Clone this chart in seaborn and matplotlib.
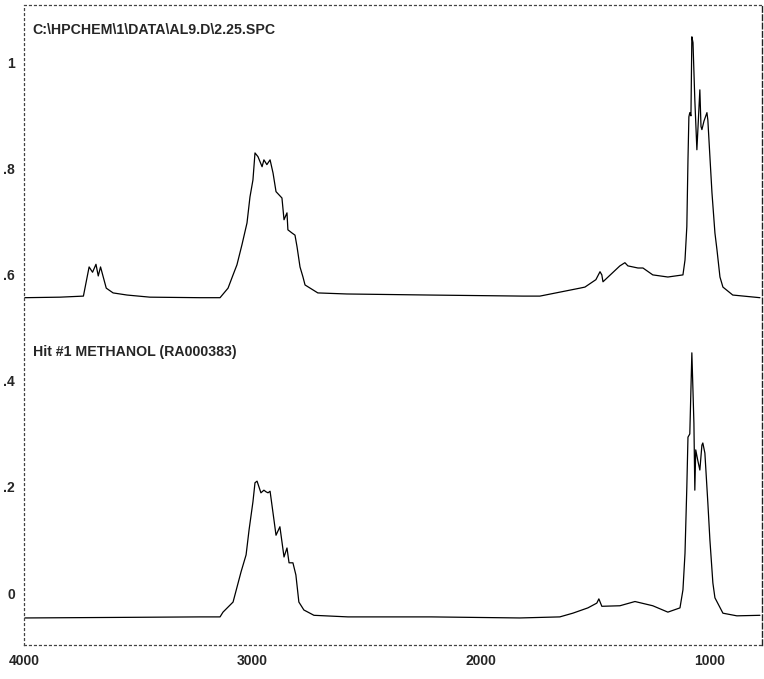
import matplotlib
matplotlib.use("Agg")
import matplotlib.pyplot as plt
import seaborn as sns
import pandas as pd

# Sample spectrum (upper trace): wavenumber (cm-1) and absorbance
sample_wn = [3996, 3842, 3740, 3715, 3700, 3685, 3675, 3665, 3640, 3610, 3549,
             3449, 3230, 3142, 3107, 3085, 3068, 3046, 3024, 3011, 2998, 2989, 2976,
             2958, 2950, 2937, 2923, 2910, 2897, 2884, 2871, 2862, 2849, 2845, 2827,
             2814, 2805, 2792, 2779, 2770, 2714, 2587, 2223, 1816, 1742, 1567, 1545,
             1497, 1479, 1471, 1466, 1392, 1370, 1357, 1313, 1291, 1248, 1182, 1116,
             1107, 1099, 1094, 1090, 1086, 1081, 1077, 1072, 1064, 1055, 1042, 1037,
             1033, 1024, 1011, 1007, 998, 989, 976, 967, 954, 941, 898, 779]
sample_abs = [0.557, 0.558, 0.560, 0.615, 0.605, 0.620, 0.598, 0.615, 0.575, 0.566, 0.562,
              0.558, 0.557, 0.557, 0.575, 0.600, 0.619, 0.657, 0.698, 0.747, 0.779, 0.830, 0.823,
              0.804, 0.817, 0.808, 0.817, 0.792, 0.757, 0.751, 0.745, 0.704, 0.717, 0.685, 0.679,
              0.675, 0.653, 0.615, 0.596, 0.581, 0.566, 0.564, 0.562, 0.560, 0.560, 0.575, 0.577,
              0.591, 0.606, 0.600, 0.587, 0.617, 0.623, 0.617, 0.613, 0.613, 0.600, 0.596, 0.600,
              0.628, 0.691, 0.817, 0.898, 0.906, 0.900, 1.049, 1.038, 0.930, 0.836, 0.949, 0.880,
              0.874, 0.890, 0.906, 0.892, 0.823, 0.755, 0.679, 0.647, 0.596, 0.577, 0.562, 0.557]

# Library match (lower trace): methanol reference spectrum
ref_wn = [3996, 3600, 3230, 3142, 3129, 3085, 3050, 3028, 3015, 2998, 2989, 2980,
          2963, 2950, 2941, 2932, 2923, 2906, 2897, 2880, 2862, 2849, 2840, 2823,
          2810, 2797, 2775, 2731, 2582, 2218, 1830, 1655, 1598, 1532, 1493, 1484,
          1471, 1392, 1326, 1248, 1182, 1129, 1116, 1107, 1099, 1094, 1086, 1077,
          1072, 1068, 1064, 1060, 1051, 1042, 1033, 1029, 1020, 1007, 998, 985,
          976, 941, 880, 779]
ref_abs = [-0.047, -0.046, -0.045, -0.045, -0.036, -0.017, 0.040, 0.072, 0.119, 0.172, 0.208, 0.211,
           0.189, 0.194, 0.191, 0.189, 0.192, 0.138, 0.109, 0.125, 0.068, 0.085, 0.057, 0.057,
           0.034, -0.017, -0.032, -0.042, -0.045, -0.045, -0.047, -0.045, -0.038, -0.028, -0.019, -0.011,
           -0.025, -0.024, -0.016, -0.024, -0.036, -0.028, 0.006, 0.075, 0.200, 0.294, 0.300, 0.453,
           0.380, 0.320, 0.194, 0.270, 0.250, 0.232, 0.279, 0.283, 0.264, 0.170, 0.100, 0.019,
           -0.009, -0.038, -0.043, -0.042]

y_ticks = [0, 0.2, 0.4, 0.6, 0.8, 1.0]
y_tick_labels = ["0", ".2", ".4", ".6", ".8", "1"]
x_ticks = [4000, 3000, 2000, 1000]
x_tick_labels = ["4000", "3000", "2000", "1000"]

sample_title = r"C:\HPCHEM\1\DATA\AL9.D\2.25.SPC"
ref_title = "Hit #1 METHANOL (RA000383)"

sns.set_style("white")
plt.rcParams["font.family"] = ["Liberation Sans", "DejaVu Sans"]

df = pd.concat([
    pd.DataFrame({"wn": sample_wn, "abs": sample_abs, "trace": "sample"}),
    pd.DataFrame({"wn": ref_wn, "abs": ref_abs, "trace": "ref"}),
])

fig = plt.figure(figsize=(7.64, 6.79), dpi=100)
ax = fig.add_axes([24 / 764, 34 / 679, 738 / 764, 640 / 679])

sns.lineplot(data=df, x="wn", y="abs", units="trace", estimator=None, sort=False,
             color="black", linewidth=0.9, ax=ax, legend=False)

ax.set_xlim(4000, 770)
ax.set_ylim(-0.098, 1.109)
ax.set_xlabel("")
ax.set_ylabel("")

ax.set_yticks(y_ticks)
ax.set_yticklabels(y_tick_labels, fontweight="bold", fontsize=10)
ax.set_xticks(x_ticks)
ax.set_xticklabels(x_tick_labels, fontweight="bold", fontsize=10)
ax.tick_params(axis="both", direction="out", length=2.5, width=0.8, color="#333333", pad=4)

for side in ("top", "bottom", "left"):
    ax.spines[side].set_linestyle((0, (1.5, 2.5)))
    ax.spines[side].set_linewidth(0.9)
    ax.spines[side].set_color("#444444")
ax.spines["right"].set_linestyle((0, (4, 2)))
ax.spines["right"].set_linewidth(1.0)
ax.spines["right"].set_color("#222222")

ax.text(0.012, 0.961, sample_title, transform=ax.transAxes, fontsize=10.2,
        fontweight="bold", va="center", ha="left")
ax.text(0.012, 0.458, ref_title, transform=ax.transAxes, fontsize=10.2,
        fontweight="bold", va="center", ha="left")

fig.savefig("out.png", dpi=100)
